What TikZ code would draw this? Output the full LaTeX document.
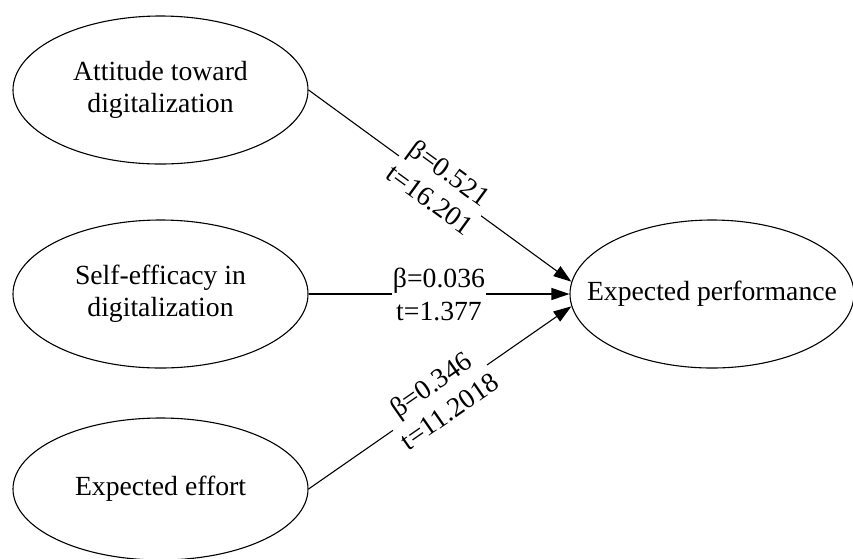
\documentclass[tikz,border=0pt]{standalone}
\usepackage{fontspec}
\setmainfont{Liberation Serif}
\usetikzlibrary{shapes.geometric,arrows.meta}
\newcommand\ctext[1]{\makebox[0pt]{\begin{tabular}{@{}c@{}}#1\end{tabular}}}
\begin{document}
\begin{tikzpicture}[x=1pt,y=-1pt,
  ell/.style={draw, ellipse, line width=1.1pt, minimum width=295pt, minimum height=148pt, inner sep=0pt,
    font=\fontsize{27.7pt}{31.6pt}\selectfont},
  arr/.style={line width=1.1pt, -{Triangle[length=18pt,width=12pt]}},
  lab/.style={fill=white, inner xsep=1pt, inner ysep=0pt, align=center, sloped,
    font=\fontsize{27.7pt}{33pt}\selectfont}
]
\useasboundingbox (0,0) rectangle (853,558);
\node[ell] (a) at (160.5,90) {\ctext{Attitude toward\\digitalization}};
\node[ell] (b) at (160.5,294) {\ctext{Self-efficacy in\\digitalization}};
\node[ell, minimum height=142pt] (c) at (160.5,489) {\ctext{Expected effort}};
\node[ell, minimum width=284pt] (e) at (712,294) {\ctext{Expected performance}};
\draw[arr] (a.east) -- node[lab] (la) {β=0.521\\t=16.201} (e.175.6);
\draw[arr] (b.east) -- node[lab] (lb) {β=0.036\\t=1.377} (e.west);
\draw[arr] (c.east) -- node[lab] (lc) {β=0.346\\t=11.2018} (e.185.2);
\end{tikzpicture}
\end{document}
